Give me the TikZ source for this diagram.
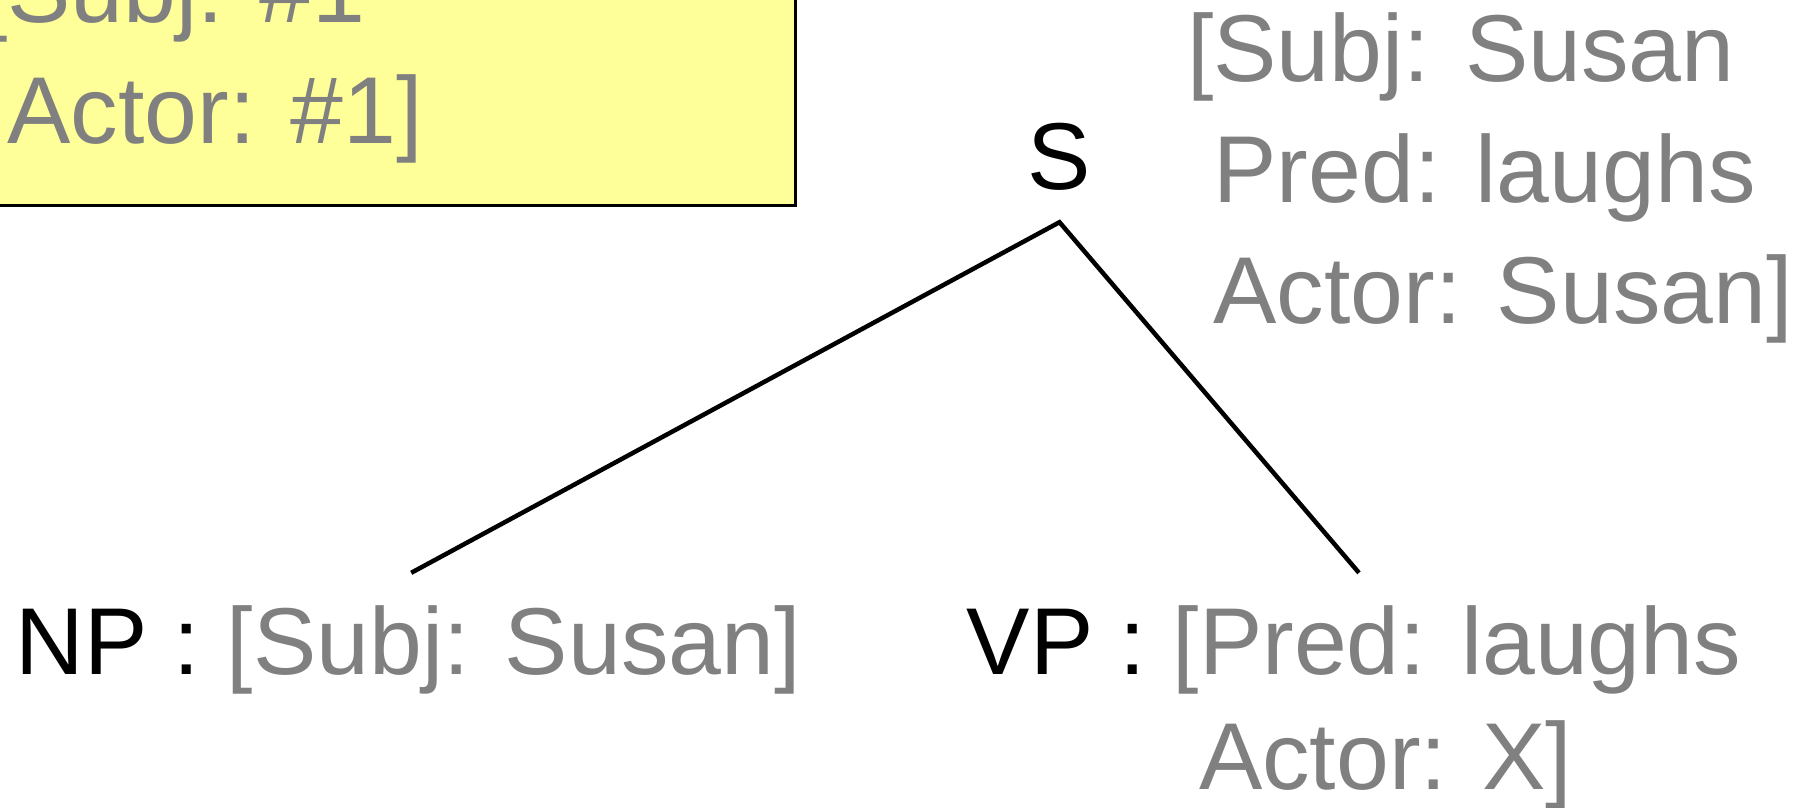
\documentclass[tikz,border=0pt]{standalone}
\usepackage{fontspec}
\setmainfont{Liberation Sans}
\definecolor{featgray}{HTML}{808080}
\definecolor{lexyellow}{HTML}{FFFF99}
\begin{document}
\begin{tikzpicture}[x=1pt,y=1pt,
  lbl/.style={inner sep=0pt, font=\fontsize{95}{121}\selectfont, text=black},
  feat/.style={lbl, text=featgray},
  branch/.style={line width=4.5pt, draw=black},
  lexbox/.style={draw=black, line width=3pt, fill=lexyellow, inner sep=0pt}]
\useasboundingbox (0,0) rectangle (1798,-807);
\clip (0,0) rectangle (1798,-807);

% lexical entry box
\node[lexbox, anchor=south east, minimum width=900pt, minimum height=300pt] (lex) at (797,-207) {};
\node[feat, anchor=base west] (lexfeat) at (-19,-22)
  {\begin{tabular}[t]{@{}l@{}}[Subj: \#1\\\phantom{[}Actor: \#1]\end{tabular}};

% root and its feature structure
\node[lbl, anchor=base, text depth=33pt] (s) at (1059.5,-189) {S};
\node[feat, anchor=base west] (sfeat) at (1187,-81)
  {\begin{tabular}[t]{@{}l@{}}[Subj: Susan\\\phantom{[}Pred: laughs\\\phantom{[}Actor: Susan]\end{tabular}};

% daughters
\node[lbl, anchor=base west, text height=101pt] (np) at (15.5,-674)
  {NP : \textcolor{featgray}{[Subj: Susan]}};
\node[lbl, anchor=base west, text height=101pt, font=\fontsize{95}{115}\selectfont] (vp) at (966.5,-674)
  {\begin{tabular}[t]{@{}l@{}}VP : \textcolor{featgray}{[Pred: laughs}\\\phantom{VP : [}\textcolor{featgray}{Actor: X]}\end{tabular}};

% branches
\draw[branch] ([xshift=3pt]np.north) -- (s.south) -- ([xshift=5pt]vp.north);
\end{tikzpicture}
\end{document}
